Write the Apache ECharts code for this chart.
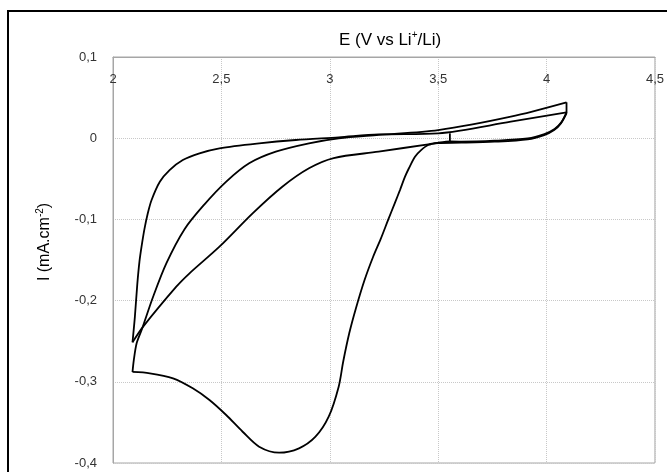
<!DOCTYPE html>
<html>
<head>
<meta charset="utf-8">
<script src="https://cdn.jsdelivr.net/npm/echarts@6/dist/echarts.min.js"></script>
<style>
    html, body { margin: 0; padding: 0; background: #fff; }
    #main { width: 667px; height: 472px; }
</style>
</head>
<body>
<div id="main"></div>
<script>
// axis ticks
var xTicks = [2, 2.5, 3, 3.5, 4, 4.5];
var yTicks = [-0.4, -0.3, -0.2, -0.1, 0, 0.1];

// voltammogram, [E (V), I (mA/cm2)] in scan order, split at the turning points
var startSeg = [[3.554, 0.006], [3.554, -0.004]];
var cathodic1 = [
    [3.554, -0.0040], [3.500, -0.0055], [3.454, -0.0084], [3.420, -0.0150], [3.393, -0.0228],
    [3.365, -0.0370], [3.347, -0.0474], [3.325, -0.0630], [3.300, -0.0800], [3.270, -0.1000],
    [3.235, -0.1240], [3.200, -0.1460], [3.160, -0.1750], [3.120, -0.2100], [3.090, -0.2400],
    [3.062, -0.2750], [3.041, -0.3060], [2.995, -0.3430], [2.934, -0.3676], [2.858, -0.3819],
    [2.766, -0.3873], [2.674, -0.3799], [2.598, -0.3615], [2.522, -0.3409], [2.445, -0.3224],
    [2.368, -0.3080], [2.277, -0.2957], [2.170, -0.2895], [2.090, -0.2879]
];
var anodic1 = [
    [2.090, -0.2879], [2.096, -0.2732], [2.109, -0.2526], [2.132, -0.2362], [2.185, -0.1952],
    [2.246, -0.1541], [2.330, -0.1120], [2.420, -0.0820], [2.520, -0.0540], [2.628, -0.0309],
    [2.751, -0.0166], [2.904, -0.0063], [3.041, -0.0001], [3.225, 0.0040], [3.500, 0.0100],
    [3.835, 0.0265], [4.092, 0.0442]
];
var tipDrop = [[4.092, 0.0442], [4.092, 0.0307]];
var cathodic2 = [
    [4.092, 0.0307], [4.066, 0.0183], [4.035, 0.0101], [3.989, 0.0039], [3.913, -0.0014],
    [3.760, -0.0043], [3.607, -0.0055], [3.500, -0.0059], [3.454, -0.0075], [3.225, -0.0166],
    [3.018, -0.0244], [2.904, -0.0370], [2.781, -0.0597], [2.644, -0.0925], [2.491, -0.1336],
    [2.353, -0.1664], [2.292, -0.1829], [2.139, -0.2321], [2.090, -0.2514]
];
var anodic2 = [
    [2.090, -0.2514], [2.101, -0.2198], [2.112, -0.1800], [2.122, -0.1520], [2.132, -0.1330],
    [2.145, -0.1120], [2.160, -0.0930], [2.178, -0.0761], [2.216, -0.0536], [2.261, -0.0392],
    [2.322, -0.0268], [2.399, -0.0186], [2.491, -0.0124], [2.674, -0.0063], [2.843, -0.0022],
    [3.041, 0.0011], [3.225, 0.0046], [3.500, 0.0060], [3.835, 0.0203], [4.092, 0.0319]
];
var cathodic3 = [
    [4.092, 0.0319], [4.068, 0.0195], [4.037, 0.0112], [3.990, 0.0050], [3.913, -0.0003],
    [3.760, -0.0031], [3.607, -0.0042], [3.554, -0.0040]
];

var segments = [startSeg, cathodic1, anodic1, tipDrop, cathodic2, anodic2, cathodic3];

// comma decimals like the original figure
function commaLabel(value) {
    var v = Math.round(value * 10) / 10;
    return String(v).replace('.', ',');
}

var myChart = echarts.init(document.getElementById('main'));

var seriesList = [];
segments.forEach(function (seg) {
    seriesList.push({
        type: 'line',
        data: seg,
        smooth: seg.length > 2 ? 0.3 : false,
        showSymbol: false,
        lineStyle: { color: '#000', width: 1.8 },
        z: 3
    });
});

var nameRich = {
    a: { fontSize: 16, color: '#000', fontWeight: 'normal', fontFamily: 'Liberation Sans' },
    s: { fontSize: 10, color: '#000', fontWeight: 'normal', fontFamily: 'Liberation Sans', padding: [0, 0, 10, 0] }
};
var titleRich = {
    a: { fontSize: 17, color: '#000', fontWeight: 'normal', fontFamily: 'Liberation Sans' },
    s: { fontSize: 10, color: '#000', fontWeight: 'normal', fontFamily: 'Liberation Sans', padding: [0, 0, 10, 0] }
};

var option = {
    animation: false,
    backgroundColor: '#fff',
    textStyle: { fontFamily: 'Liberation Sans, Arial, sans-serif' },
    title: {
        text: '{a|E (V vs Li}{s|+}{a|/Li)}',
        left: 385,
        top: 25,
        textAlign: 'center',
        textStyle: { fontWeight: 'normal', rich: titleRich }
    },
    grid: {
        left: 113,
        right: 9,
        top: 57,
        bottom: 9,
        show: true,
        borderColor: '#a6a6a6',
        borderWidth: 1
    },
    xAxis: {
        type: 'value',
        position: 'top',
        min: xTicks[0],
        max: xTicks[xTicks.length - 1],
        interval: 0.5,
        axisLine: { show: true, onZero: false, lineStyle: { color: '#a6a6a6' } },
        axisTick: { show: false },
        axisLabel: {
            inside: true,
            margin: 16,
            fontSize: 13,
            color: '#333',
            showMinLabel: true,
            showMaxLabel: true,
            formatter: commaLabel
        },
        splitLine: { show: true, lineStyle: { color: '#c8c8c8', type: 'dotted' } }
    },
    yAxis: {
        type: 'value',
        min: yTicks[0],
        max: yTicks[yTicks.length - 1],
        interval: 0.1,
        name: '{a|I (mA.cm}{s|-2}{a|)}',
        nameLocation: 'middle',
        nameRotate: 90,
        nameGap: 58,
        nameTextStyle: {
            padding: [0, 0, 0, 36],
            rich: nameRich
        },
        axisLine: { show: true, onZero: false, lineStyle: { color: '#a6a6a6' } },
        axisTick: { show: false },
        axisLabel: {
            margin: 16,
            fontSize: 13,
            color: '#333',
            formatter: commaLabel
        },
        splitLine: { show: true, lineStyle: { color: '#c8c8c8', type: 'dotted' } }
    },
    graphic: [{
        type: 'rect',
        shape: { x: 8, y: 11, width: 700, height: 500 },
        style: { fill: 'none', stroke: '#000', lineWidth: 2 },
        silent: true
    }],
    series: seriesList
};

myChart.setOption(option);
</script>
</body>
</html>
